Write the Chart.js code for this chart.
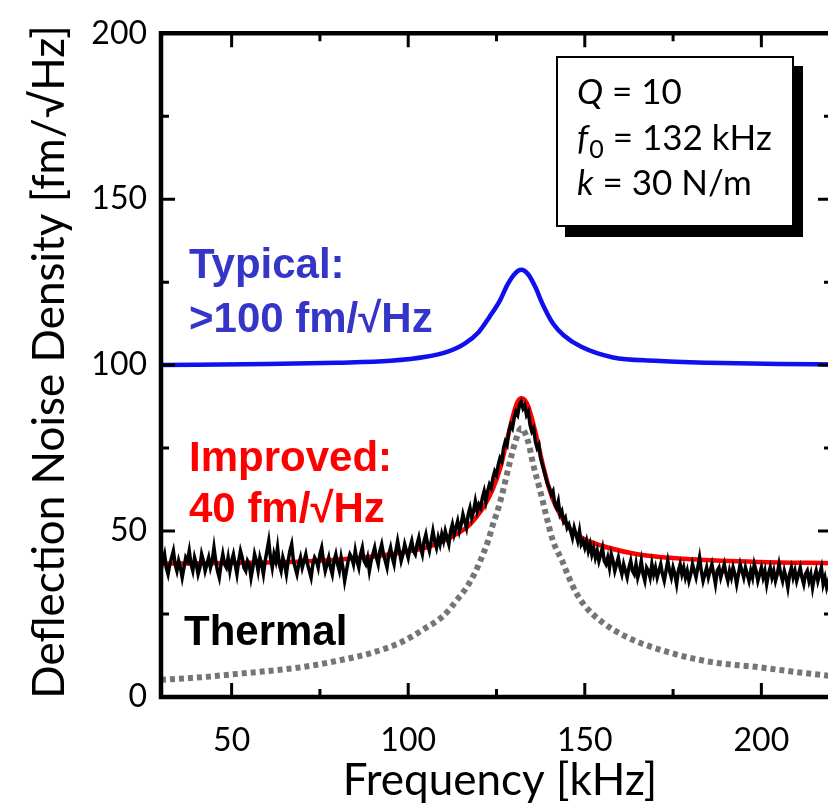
<!DOCTYPE html>
<html>
<head>
<meta charset="utf-8">
<script src="https://cdn.jsdelivr.net/npm/chart.js@4.4.1/dist/chart.umd.min.js"></script>
<style>
  html, body { margin: 0; padding: 0; background: #fff; overflow: hidden; }
  #wrap { position: absolute; left: 0; top: 0; width: 836px; height: 811px; }
</style>
</head>
<body>
<div id="wrap"><canvas id="noiseChart" width="836" height="811"></canvas></div>
<script>
// axis ticks
const xTickValues = [50, 100, 150, 200];
const yTickValues = [0, 50, 100, 150, 200];

// "Typical" detector response (kHz, fm/√Hz)
const typicalFreq = [30, 60, 80, 95, 105, 111, 116, 120, 123, 126, 128, 130, 132, 134, 136, 138, 141, 144, 149, 158, 170, 185, 205, 220];
const typicalNoise = [100, 100.3, 100.7, 101.3, 102.5, 104, 106.5, 110, 114.5, 119.5, 124, 127.3, 128.7, 127.3, 123.5, 118.5, 112.5, 109, 105.5, 102.3, 101.3, 100.7, 100.3, 100.2];

// "Improved" fit
const improvedFreq = [30, 50, 70, 86, 95, 100, 105, 110, 114, 117, 119.5, 121.5, 124, 126, 128, 130, 131, 132, 133, 134, 136, 138, 140, 142, 146, 150, 155, 163, 170, 180, 199, 220];
const improvedNoise = [40.2, 40.4, 40.8, 41.9, 43, 43.9, 45, 47, 49.3, 51.5, 54.5, 57.5, 62.8, 68.7, 77.5, 86, 89, 90, 89.5, 87.5, 79.8, 70.5, 62.5, 57, 50.5, 47.5, 45.5, 43.4, 42.3, 41.5, 40.7, 40.3];

// thermal limit
const thermalFreq = [30, 42, 50, 60, 70, 78, 90, 98, 104.5, 110, 114, 116.5, 118.7, 120.4, 122.6, 124, 125.5, 127, 128.3, 130.3, 132, 134, 135.4, 137.2, 138.6, 139.7, 141, 143.6, 145.3, 147.5, 150, 155, 162, 174, 186, 199, 210, 220];
const thermalNoise = [5.2, 6, 6.8, 7.8, 9, 10.5, 13.4, 16.5, 20.5, 24.5, 29.5, 33, 37, 41, 47, 52, 56.8, 62.8, 68.7, 76.8, 81, 76.8, 70, 62.8, 56.8, 52, 47, 41, 36.5, 31.5, 27.5, 22.5, 18, 13.4, 10.5, 9, 7.5, 6.3];

// measured spectrum, one sample every 0.5 kHz from 30 kHz
const measuredStart = 30;
const measuredStep = 0.5;
const measuredNoise = [
  38, 41, 43, 39, 37, 40, 42, 44, 40, 38, 41, 39, 36, 39, 42, 41, 44, 40, 38, 42,
  40, 37, 39, 43, 41, 38, 40, 42, 39, 41, 45, 41, 38, 36, 40, 43, 40, 39, 42, 38,
  41, 43, 40, 37, 41, 44, 42, 39, 38, 41, 40, 36, 39, 43, 41, 38, 42, 40, 37, 41,
  44, 47, 42, 39, 43, 41, 45, 40, 38, 42, 40, 37, 41, 44, 46, 41, 39, 37, 40, 42,
  39, 41, 43, 40, 38, 36, 40, 42, 41, 39, 43, 45, 41, 38, 40, 42, 39, 37, 41, 43,
  40, 38, 42, 39, 35, 38, 41, 43, 42, 40, 44, 41, 39, 43, 45, 41, 40, 42, 38, 41,
  43, 45, 42, 40, 44, 46, 43, 41, 39, 43, 45, 42, 40, 44, 47, 44, 41, 43, 46, 44,
  42, 45, 47, 44, 43, 46, 48, 45, 43, 47, 49, 46, 44, 47, 50, 47, 45, 48, 46, 49,
  47, 50, 48, 46, 50, 52, 49, 51, 53, 50, 52, 55, 53, 51, 55, 57, 54, 56, 59, 56,
  58, 57, 60, 62, 59, 62, 64, 63, 66, 68, 67, 70, 72, 71, 75, 77, 76, 80, 82, 81,
  84, 86, 85, 88, 89, 87, 88, 85, 86, 82, 80, 81, 77, 75, 76, 72, 70, 68, 66, 64,
  63, 61, 62, 58, 57, 59, 55, 56, 53, 54, 51, 52, 50, 48, 51, 49, 47, 50, 46, 47,
  45, 47, 44, 46, 43, 45, 42, 44, 41, 43, 45, 41, 40, 42, 39, 43, 41, 38, 40, 42,
  39, 37, 40, 38, 36, 39, 41, 38, 37, 40, 36, 38, 41, 37, 35, 39, 38, 36, 40, 37,
  39, 36, 38, 40, 37, 35, 38, 41, 38, 36, 39, 37, 34, 38, 40, 37, 39, 36, 38, 35,
  37, 40, 38, 36, 39, 42, 38, 35, 37, 39, 36, 38, 40, 37, 34, 38, 39, 36, 38, 40,
  37, 35, 38, 36, 39, 37, 34, 37, 40, 38, 36, 39, 37, 35, 38, 36, 40, 38, 35, 37,
  39, 36, 38, 34, 37, 39, 36, 38, 35, 37, 40, 37, 35, 38, 36, 33, 37, 39, 36, 38,
  35, 37, 39, 36, 34, 37, 38, 35, 37, 33, 36, 38, 35, 37, 39, 34, 36, 33, 35, 37,
  36
];

const toPoints = (xs, ys) => xs.map((x, i) => ({ x: x, y: ys[i] }));
const measuredPoints = measuredNoise.map((v, i) => ({ x: measuredStart + i * measuredStep, y: v }));

const FONT = 'Lato, "DejaVu Sans", sans-serif';
const BOLD = '"Liberation Sans", Arial, sans-serif';

// frame, inward ticks, labels and parameter box
const decorations = {
    id: 'decorations',
    afterDatasetsDraw(chart) {
        const { ctx, chartArea: a, scales: { x, y } } = chart;
        ctx.save();
        ctx.strokeStyle = '#000';
        ctx.lineWidth = 4.5;
        ctx.lineCap = 'butt';
        ctx.beginPath();
        ctx.moveTo(a.right, a.top);
        ctx.lineTo(a.left, a.top);
        ctx.lineTo(a.left, a.bottom);
        ctx.lineTo(a.right, a.bottom);
        ctx.lineTo(a.right, a.top);
        ctx.stroke();

        ctx.lineWidth = 3;
        for (let v = 50; v <= 200; v += 25) {
            const px = x.getPixelForValue(v);
            const len = v % 50 === 0 ? 14 : 8;
            ctx.beginPath();
            ctx.moveTo(px, a.bottom); ctx.lineTo(px, a.bottom - len);
            ctx.moveTo(px, a.top); ctx.lineTo(px, a.top + len);
            ctx.stroke();
        }
        for (let v = 25; v < 200; v += 25) {
            const py = y.getPixelForValue(v);
            const len = v % 50 === 0 ? 14 : 8;
            ctx.beginPath();
            ctx.moveTo(a.left, py); ctx.lineTo(a.left + len, py);
            ctx.moveTo(a.right, py); ctx.lineTo(a.right - len, py);
            ctx.stroke();
        }

        // curve labels
        ctx.textAlign = 'left';
        ctx.textBaseline = 'alphabetic';
        ctx.font = 'bold 42px ' + BOLD;
        ctx.fillStyle = '#3535c8';
        ctx.fillText('Typical:', 189, 278);
        ctx.fillText('>100 fm/√Hz', 189, 332);
        ctx.fillStyle = '#ff0000';
        ctx.fillText('Improved:', 189, 471);
        ctx.fillText('40 fm/√Hz', 189, 522);
        ctx.fillStyle = '#000';
        ctx.fillText('Thermal', 184, 645);

        // parameter box with drop shadow
        ctx.fillStyle = '#000';
        ctx.fillRect(565, 66, 238, 171);
        ctx.fillStyle = '#fff';
        ctx.fillRect(557, 57, 236, 169);
        ctx.lineWidth = 2;
        ctx.strokeRect(557, 57, 236, 169);

        ctx.fillStyle = '#000';
        ctx.font = 'italic 35px ' + FONT;
        ctx.fillText('Q', 577, 104);
        let w = ctx.measureText('Q').width;
        ctx.font = '35px ' + FONT;
        ctx.fillText(' = 10', 577 + w, 104);

        ctx.font = 'italic 35px ' + FONT;
        ctx.fillText('f', 577, 150);
        w = ctx.measureText('f').width;
        ctx.font = '25px ' + FONT;
        ctx.fillText('0', 577 + w + 1, 158);
        w += ctx.measureText('0').width + 1;
        ctx.font = '35px ' + FONT;
        ctx.fillText(' = 132 kHz', 577 + w, 150);

        ctx.font = 'italic 35px ' + FONT;
        ctx.fillText('k', 577, 195);
        w = ctx.measureText('k').width;
        ctx.font = '35px ' + FONT;
        ctx.fillText(' = 30 N/m', 577 + w, 195);

        // axis titles
        ctx.font = '44px ' + FONT;
        ctx.textAlign = 'center';
        ctx.textBaseline = 'alphabetic';
        ctx.fillText('Frequency [kHz]', 500, 795);
        ctx.translate(64, 362);
        ctx.rotate(-Math.PI / 2);
        ctx.fillText('Deflection Noise Density [fm/√Hz]', 0, 0);
        ctx.restore();
    }
};

const ctx = document.getElementById('noiseChart').getContext('2d');
new Chart(ctx, {
    type: 'line',
    data: {
        datasets: [
            {
                label: 'Thermal',
                data: toPoints(thermalFreq, thermalNoise),
                borderColor: '#757575',
                borderWidth: 6,
                borderDash: [5, 4],
                cubicInterpolationMode: 'monotone',
                pointRadius: 0
            },
            {
                label: 'Measured',
                data: measuredPoints,
                borderColor: '#000',
                borderWidth: 3.5,
                tension: 0,
                pointRadius: 0
            },
            {
                label: 'Improved',
                data: toPoints(improvedFreq, improvedNoise),
                borderColor: '#ff0000',
                borderWidth: 4.5,
                cubicInterpolationMode: 'monotone',
                pointRadius: 0
            },
            {
                label: 'Typical',
                data: toPoints(typicalFreq, typicalNoise),
                borderColor: '#1010ee',
                borderWidth: 4.5,
                cubicInterpolationMode: 'monotone',
                pointRadius: 0
            }
        ]
    },
    options: {
        responsive: false,
        animation: false,
        devicePixelRatio: 1,
        layout: { padding: { top: 28, right: 4, left: 0, bottom: 0 } },
        plugins: { legend: { display: false }, tooltip: { enabled: false } },
        scales: {
            x: {
                type: 'linear',
                min: 30,
                max: 220,
                afterBuildTicks: (scale) => { scale.ticks = xTickValues.map(v => ({ value: v })); },
                afterFit: (scale) => { scale.height = 114; },
                grid: { display: false, drawTicks: false },
                border: { display: false },
                ticks: { color: '#000', padding: 24, font: { family: FONT, size: 32 }, maxRotation: 0 }
            },
            y: {
                min: 0,
                max: 200,
                afterBuildTicks: (scale) => { scale.ticks = yTickValues.map(v => ({ value: v })); },
                afterFit: (scale) => { scale.width = 161; },
                grid: { display: false, drawTicks: false },
                border: { display: false },
                ticks: { color: '#000', padding: 14, font: { family: FONT, size: 32 } }
            }
        }
    },
    plugins: [decorations]
});
</script>
</body>
</html>
